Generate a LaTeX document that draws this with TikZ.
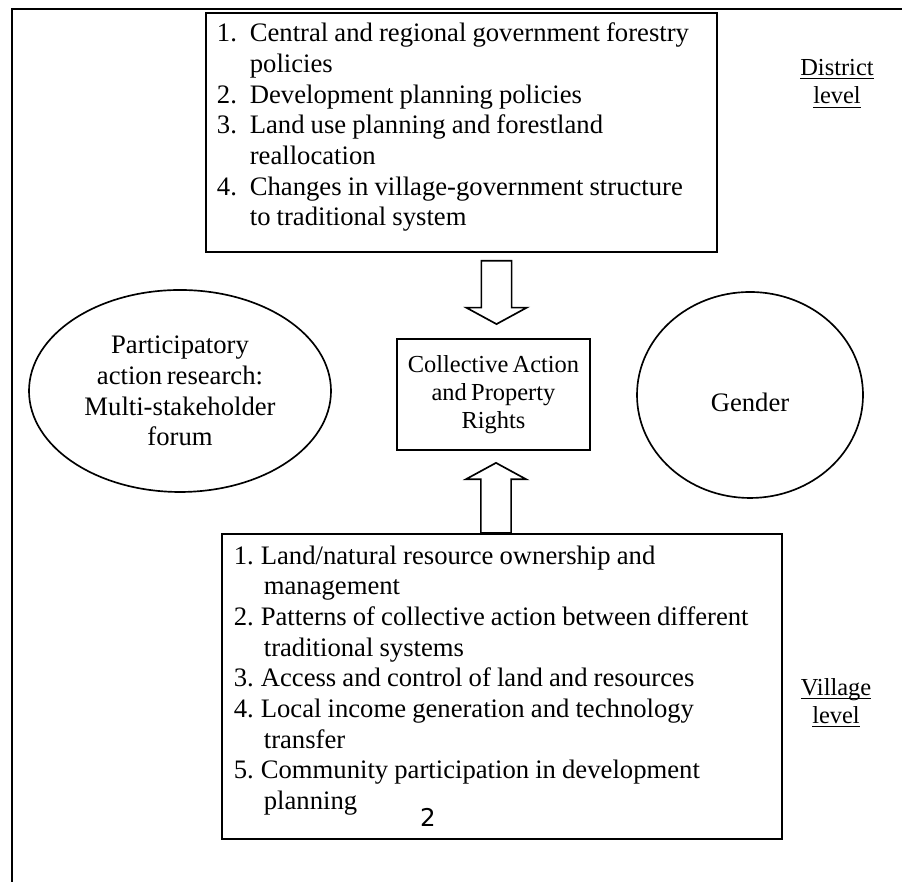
\documentclass[tikz,border=0pt]{standalone}
\usepackage{fontspec}
\setmainfont{Liberation Serif}[WordSpace=0.7]
\newfontfamily\pgnumfont{DejaVu Sans}
\usepackage{tikz}
\usetikzlibrary{calc,shapes.geometric}
\setlength\parindent{0pt}
\setlength\parskip{0pt}
\newlength\numwd
\newlength\hangwd
\newcommand\itm[2]{\hangindent=\hangwd\relax\hangafter=1\relax\makebox[\numwd][l]{#1}#2\par}
% underline kept close to the baseline, through descenders
\newcommand\lvlul[1]{\underline{\raisebox{0pt}[\height][0pt]{#1}}}
% hollow block arrow from #1 (tail) to #2 (tip), vertical only
\newcommand\blockarrow[2]{%
  \draw[harr] let \p1=(#1), \p2=(#2), \p3=($(#2)!7.4pt!(#1)$) in
    (\x2-6.8pt,\y1) -- (\x2-6.8pt,\y3) -- (\x2-13.6pt,\y3) -- (\x2,\y2)
    -- (\x2+13.6pt,\y3) -- (\x2+6.8pt,\y3) -- (\x2+6.8pt,\y1) -- cycle;}
\tikzset{
  lst/.style={draw,line width=0.75pt,align=left,anchor=north west,inner ysep=0pt,
    font=\fontsize{12}{13.8}\selectfont},
  ell/.style={draw,ellipse,line width=0.75pt,inner sep=0pt,align=center,font=\fontsize{12}{13.8}\selectfont},
  cbx/.style={draw,line width=0.75pt,inner sep=0pt,align=center,font=\fontsize{11}{12.65}\selectfont},
  lvl/.style={align=center,font=\fontsize{11}{12.65}\selectfont},
  harr/.style={draw,line width=0.75pt,fill=white},
}
\begin{document}
\begin{tikzpicture}[x=0.45pt,y=0.45pt]
  \useasboundingbox (0,0) rectangle (902,882);
  \draw[line width=0.9pt] (12,-10) -- (12,873) -- (912,873);
  % district level factors
  \node[lst,text width=220pt,inner xsep=5pt,text height=13pt,text depth=94.6pt] (pol) at (205,870) {%
    \spaceskip=2.75pt plus 1pt minus 0.5pt\relax
    \setlength\numwd{14.8pt}\setlength\hangwd{14.8pt}%
    \itm{1.}{Central and regional government forestry\newline policies}
    \itm{2.}{Development planning policies}
    \itm{3.}{Land use planning and forestland\newline reallocation}
    \itm{4.}{Changes in village-government structure\newline to traditional system}};
  \node[lvl] (dist) at (837,798) {\lvlul{District}\\\lvlul{level}};
  % centre row
  \node[cbx,minimum width=86.9pt,minimum height=50pt] (cap) at (493.5,487.5) {Collective Action\\and Property\\Rights};
  \node[ell,minimum width=135.9pt,minimum height=90.9pt] (par) at (180,491) {Participatory\\action research:\\Multi-stakeholder\\forum};
  \node[ell,minimum width=101.7pt,minimum height=92.7pt,text height=15pt] (gen) at (750,487) {Gender};
  % village level factors
  \node[lst,text width=241.2pt,inner xsep=5.4pt,text height=13.7pt,text depth=123.55pt] (vil) at (221,349) {%
    \spaceskip=2.75pt plus 1pt minus 0.5pt\relax
    \setlength\numwd{12.15pt}\setlength\hangwd{13.5pt}%
    \itm{1.}{Land/natural resource ownership and\newline management}
    \itm{2.}{Patterns of collective action between different\newline traditional systems}
    \itm{3.}{Access and control of land and resources}
    \itm{4.}{Local income generation and technology\newline transfer}
    \itm{5.}{Community participation in development\newline planning}};
  \node[lvl] (vlev) at (836,179) {\lvlul{Village}\\\lvlul{level}};
  \node[font=\pgnumfont\fontsize{11}{13}\selectfont] (pg) at (428,65) {2};
  % block arrows into the centre box
  \coordinate (d1) at ($(cap.north |- pol.south)+(3,-8)$);
  \coordinate (d2) at ($(cap.north)+(3,14)$);
  \coordinate (u1) at ($(cap.south |- vil.north)+(2.5,0)$);
  \coordinate (u2) at ($(cap.south)+(2.5,-12)$);
  \blockarrow{d1}{d2}
  \blockarrow{u1}{u2}
\end{tikzpicture}
\end{document}
